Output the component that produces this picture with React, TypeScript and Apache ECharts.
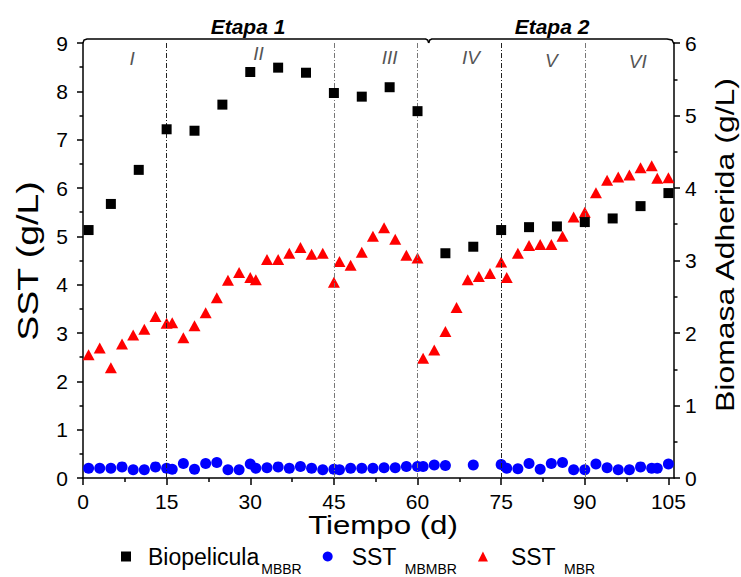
import React, { useEffect, useRef } from 'react';
import * as echarts from 'echarts';

// ---- Data ----
const bioDays = [1, 5, 10, 15, 20, 25, 30, 35, 40, 45, 50, 55, 60, 65, 70, 75, 80, 85, 90, 95, 100, 105];
const bioValues = [3.42, 3.78, 4.25, 4.81, 4.79, 5.15, 5.6, 5.66, 5.59, 5.31, 5.26, 5.39, 5.06, 3.1, 3.19, 3.42, 3.46, 3.47, 3.53, 3.58, 3.75, 3.93];

const mbmbrDays = [1, 3, 5, 7, 9, 11, 13, 15, 16, 18, 20, 22, 24, 26, 28, 30, 31, 33, 35, 37, 39, 41, 43, 45, 46, 48, 50, 52, 54, 56, 58, 60, 61, 63, 65, 70, 75, 76, 78, 80, 82, 84, 86, 88, 90, 92, 94, 96, 98, 100, 102, 103, 105];
const mbmbrValues = [0.2, 0.2, 0.2, 0.23, 0.17, 0.17, 0.23, 0.2, 0.18, 0.3, 0.18, 0.3, 0.32, 0.17, 0.17, 0.29, 0.2, 0.21, 0.23, 0.2, 0.24, 0.2, 0.17, 0.18, 0.17, 0.2, 0.2, 0.2, 0.21, 0.21, 0.24, 0.24, 0.24, 0.27, 0.26, 0.27, 0.28, 0.2, 0.19, 0.3, 0.18, 0.3, 0.32, 0.17, 0.17, 0.29, 0.21, 0.17, 0.17, 0.23, 0.2, 0.2, 0.29];

const mbrDays = [1, 3, 5, 7, 9, 11, 13, 15, 16, 18, 20, 22, 24, 26, 28, 30, 31, 33, 35, 37, 39, 41, 43, 45, 46, 48, 50, 52, 54, 56, 58, 60, 61, 63, 65, 67, 69, 71, 73, 75, 76, 78, 80, 82, 84, 86, 88, 90, 92, 94, 96, 98, 100, 102, 103, 105];
const mbrValues = [2.55, 2.69, 2.28, 2.77, 2.96, 3.08, 3.34, 3.2, 3.21, 2.9, 3.15, 3.42, 3.73, 4.09, 4.25, 4.15, 4.1, 4.52, 4.52, 4.65, 4.77, 4.63, 4.65, 4.05, 4.48, 4.4, 4.67, 5.0, 5.18, 4.94, 4.61, 4.55, 2.48, 2.65, 3.03, 3.53, 4.1, 4.17, 4.23, 4.47, 4.15, 4.65, 4.81, 4.83, 4.83, 5.0, 5.4, 5.5, 5.9, 6.16, 6.23, 6.27, 6.42, 6.46, 6.2, 6.21];

const xMajorTicks = [0, 15, 30, 45, 60, 75, 90, 105];
const xMinorTicks = [7.5, 22.5, 37.5, 52.5, 67.5, 82.5, 97.5];
const phaseLines = [15, 45, 60, 75, 90];
const phaseLineGray = [false, true, true, false, true];
const phaseLabels = ['I', 'II', 'III', 'IV', 'V', 'VI'];
const phaseLabelDays = [8.8, 31.5, 55, 69.6, 84, 99.5];
const phaseLabelY = [58, 53, 57, 57, 60, 61];
const stageLabels = ['Etapa 1', 'Etapa 2'];
const stageSplitDay = 62;
const xTitle = 'Tiempo (d)';
const yLeftTitle = 'SST (g/L)';
const yRightTitle = 'Biomasa Adherida (g/L)';

const FONT = '"Liberation Sans", Arial, Helvetica, sans-serif';

const GRID_LEFT = 83;
const GRID_TOP = 43;
const GRID_W = 591;
const GRID_H = 435;
const X_MAX = 106;

export default function App() {
  const ref = useRef<HTMLDivElement>(null);
  useEffect(() => {
    document.body.style.margin = '0';
    if (!ref.current) return;
    const chart = echarts.init(ref.current, undefined, { renderer: 'svg' });
    const xp = (d: number) => GRID_LEFT + (d * GRID_W) / X_MAX;
    const xs = xp(stageSplitDay);
    const right = GRID_LEFT + GRID_W;
    const topY = GRID_TOP - 4;

    const legendMap: Record<string, string> = {
      'Biopelicula MBBR': '{m1|Biopelicula}{s|MBBR}',
      'SST MBMBR': '{m2|SST }{s2|MBMBR}',
      'SST MBR': '{m3|SST }{s|MBR}',
    };
    const mainText = { fontSize: 23, fontFamily: FONT, color: '#000', verticalAlign: 'middle' };
    const subText = { fontSize: 14, fontFamily: FONT, color: '#000', verticalAlign: 'middle' };

    const graphics: any[] = [
      {
        type: 'polyline',
        shape: { points: [[GRID_LEFT, GRID_TOP], [GRID_LEFT + 1, topY + 1], [GRID_LEFT + 4, topY], [xs - 3, topY], [xs - 1, topY + 1], [xs, topY + 4]] },
        style: { stroke: '#000', lineWidth: 1.5, fill: 'none' },
      },
      {
        type: 'polyline',
        shape: { points: [[xs, topY + 4], [xs + 1, topY + 1], [xs + 3, topY], [right - 7, topY], [right - 2, topY + 1], [right, GRID_TOP + 1]] },
        style: { stroke: '#000', lineWidth: 1.5, fill: 'none' },
      },
      {
        type: 'text',
        x: 248,
        y: 26,
        style: { text: stageLabels[0], font: `italic bold 21px ${FONT}`, fill: '#000', align: 'center', verticalAlign: 'middle' },
      },
      {
        type: 'text',
        x: 552,
        y: 26,
        style: { text: stageLabels[1], font: `italic bold 21px ${FONT}`, fill: '#000', align: 'center', verticalAlign: 'middle' },
      },
      ...phaseLabels.map((t, i) => ({
        type: 'text',
        x: xp(phaseLabelDays[i]),
        y: phaseLabelY[i],
        style: { text: t, font: `italic 19px ${FONT}`, fill: '#555', align: 'center', verticalAlign: 'middle' },
      })),
      {
        type: 'text',
        x: 383,
        y: 525,
        scaleX: 1.2,
        style: { text: xTitle, font: `26px ${FONT}`, fill: '#000', align: 'center', verticalAlign: 'middle' },
      },
      {
        type: 'text',
        x: 27,
        y: 261,
        rotation: Math.PI / 2,
        scaleX: 1.25,
        style: { text: yLeftTitle, font: `30px ${FONT}`, fill: '#000', align: 'center', verticalAlign: 'middle' },
      },
      {
        type: 'text',
        x: 725,
        y: 245,
        rotation: Math.PI / 2,
        scaleX: 1.23,
        style: { text: yRightTitle, font: `26px ${FONT}`, fill: '#000', align: 'center', verticalAlign: 'middle' },
      },
    ];

    chart.setOption({
      animation: false,
      backgroundColor: '#fff',
      grid: { left: GRID_LEFT, top: GRID_TOP, width: GRID_W, height: GRID_H, containLabel: false },
      xAxis: [
        {
          type: 'value',
          min: 0,
          max: X_MAX,
          position: 'bottom',
          axisLine: { show: true, onZero: false, lineStyle: { color: '#000', width: 1.5 } },
          axisTick: { show: true, inside: false, length: 7, customValues: xMajorTicks, lineStyle: { color: '#000', width: 1.5 } },
          axisLabel: { show: true, customValues: xMajorTicks, margin: 13, fontSize: 21, fontFamily: FONT, color: '#000' },
          splitLine: { show: false },
        },
        {
          type: 'value',
          min: 0,
          max: X_MAX,
          position: 'bottom',
          axisLine: { show: false, onZero: false },
          axisTick: { show: true, inside: false, length: 4, customValues: xMinorTicks, lineStyle: { color: '#000', width: 1.5 } },
          axisLabel: { show: false },
          splitLine: { show: false },
        },
      ],
      yAxis: [
        {
          type: 'value',
          min: 0,
          max: 9,
          interval: 1,
          position: 'left',
          axisLine: { show: true, onZero: false, lineStyle: { color: '#000', width: 1.5 } },
          axisTick: { show: true, inside: false, length: 6, lineStyle: { color: '#000', width: 1.5 } },
          minorTick: { show: true, splitNumber: 2, length: 3.5, lineStyle: { color: '#000', width: 1.5 } },
          axisLabel: { margin: 15, fontSize: 21, fontFamily: FONT, color: '#000' },
          splitLine: { show: false },
        },
        {
          type: 'value',
          min: 0,
          max: 6,
          interval: 1,
          position: 'right',
          axisLine: { show: true, onZero: false, lineStyle: { color: '#000', width: 1.5 } },
          axisTick: { show: true, inside: false, length: 6, lineStyle: { color: '#000', width: 1.5 } },
          minorTick: { show: true, splitNumber: 2, length: 3.5, lineStyle: { color: '#000', width: 1.5 } },
          axisLabel: { margin: 11, fontSize: 21, fontFamily: FONT, color: '#000' },
          splitLine: { show: false },
        },
      ],
      legend: {
        left: 116,
        top: 540,
        itemWidth: 10,
        itemHeight: 10,
        itemGap: 21,
        data: [
          { name: 'Biopelicula MBBR', icon: 'rect' },
          { name: 'SST MBMBR', icon: 'circle' },
          { name: 'SST MBR', icon: 'triangle' },
        ],
        formatter: (name: string) => legendMap[name] || name,
        textStyle: {
          rich: {
            m1: { ...mainText, padding: [0, 0, 0, 12] },
            m2: { ...mainText, padding: [0, 0, 0, 14] },
            m3: { ...mainText, padding: [0, 0, 0, 18] },
            s: { ...subText, padding: [24, 5, 0, 2] },
            s2: { ...subText, padding: [24, 8, 0, 2] },
          },
        },
      },
      series: [
        {
          name: 'Biopelicula MBBR',
          type: 'scatter',
          xAxisIndex: 0,
          yAxisIndex: 1,
          symbol: 'rect',
          symbolSize: 10,
          z: 5,
          itemStyle: { color: '#000', opacity: 1 },
          data: bioDays.map((d, i) => [d, bioValues[i]]),
        },
        {
          name: 'SST MBMBR',
          type: 'scatter',
          xAxisIndex: 0,
          yAxisIndex: 0,
          symbol: 'circle',
          symbolSize: 11,
          z: 4,
          itemStyle: { color: '#0000ff', opacity: 1 },
          data: mbmbrDays.map((d, i) => [d, mbmbrValues[i]]),
        },
        {
          name: 'SST MBR',
          type: 'scatter',
          xAxisIndex: 0,
          yAxisIndex: 0,
          symbol: 'triangle',
          symbolSize: [12, 11],
          z: 3,
          itemStyle: { color: '#ff0000', opacity: 1 },
          data: mbrDays.map((d, i) => [d, mbrValues[i]]),
          markLine: {
            silent: true,
            symbol: 'none',
            label: { show: false },
            data: phaseLines.map((d, i) => ({
              xAxis: d,
              lineStyle: { color: phaseLineGray[i] ? '#777' : '#222', width: 1, type: [5, 2, 1, 2] },
            })),
          },
        },
      ],
      graphic: graphics,
    });
    return () => chart.dispose();
  }, []);
  return <div ref={ref} style={{ width: 741, height: 577 }} />;
}
